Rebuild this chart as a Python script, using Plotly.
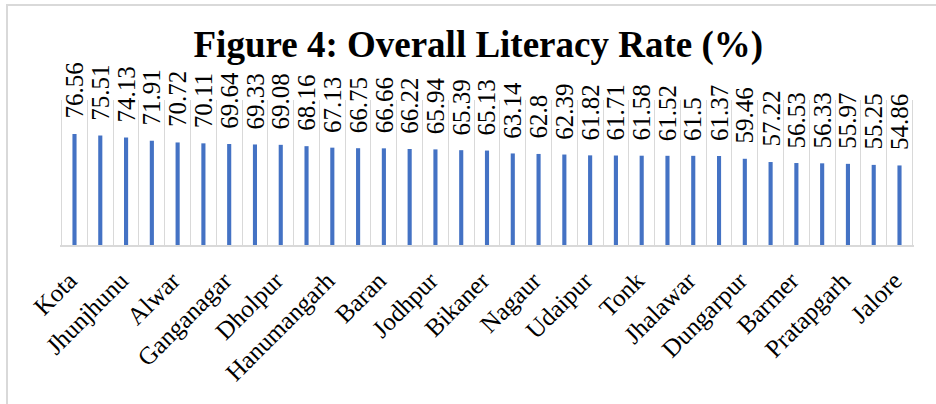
import plotly.graph_objects as go

districts = ["Kota", "Jaipur", "Jhunjhunu", "Sikar", "Alwar", "Bharatpur", "Ganganagar",
             "Ajmer", "Dholpur", "Dausa", "Hanumangarh", "Churu", "Baran", "Karauli",
             "Jodhpur", "Sawai Madhopur", "Bikaner", "Rajsamand", "Nagaur", "Pali",
             "Udaipur", "Chittorgarh", "Tonk", "Bundi", "Jhalawar", "Bhilwara",
             "Dungarpur", "Jaisalmer", "Barmer", "Banswara", "Pratapgarh", "Sirohi", "Jalore"]
literacy = [76.56, 75.51, 74.13, 71.91, 70.72, 70.11, 69.64, 69.33, 69.08, 68.16, 67.13,
            66.75, 66.66, 66.22, 65.94, 65.39, 65.13, 63.14, 62.8, 62.39, 61.82, 61.71,
            61.58, 61.52, 61.5, 61.37, 59.46, 57.22, 56.53, 56.33, 55.97, 55.25, 54.86]
tick_text = [d if i % 2 == 0 else "" for i, d in enumerate(districts)]

SERIF = "Liberation Serif"

fig = go.Figure()
fig.add_trace(go.Bar(x=districts, y=literacy, marker=dict(color="#4472C4", line=dict(width=0)),
                     cliponaxis=False, hoverinfo="x+y"))

for d, v in zip(districts, literacy):
    fig.add_annotation(x=d, y=v, text=f"{v:g}", textangle=-90, showarrow=False,
                       xanchor="center", yanchor="bottom", yshift=14, borderpad=0,
                       font=dict(family=SERIF, size=25, color="#000000"))

fig.update_layout(
    width=936, height=404,
    margin=dict(l=60, r=22, t=100, b=159, autoexpand=False),
    paper_bgcolor="white", plot_bgcolor="white",
    bargap=0.84,
    showlegend=False,
    font=dict(family=SERIF),
    title=dict(text="<b>Figure 4: Overall Literacy Rate (%)</b>", x=0.511, xref="container",
               xanchor="center", y=1 - 44 / 404, yref="container", yanchor="middle",
               font=dict(family=SERIF, size=37, color="#000000")),
    xaxis=dict(type="category", tickmode="array", tickvals=districts, ticktext=tick_text,
               tickangle=-45, tickson="boundaries", ticks="", showgrid=True,
               gridcolor="#d9d9d9", gridwidth=1.3, showline=True, linecolor="#d9d9d9",
               linewidth=2, ticklabelstandoff=9, ticklabelshift=-5, automargin=False,
               tickfont=dict(family=SERIF, size=25, color="#000000")),
    yaxis=dict(range=[0, 100], visible=False, showgrid=False, zeroline=False),
    shapes=[dict(type="rect", xref="paper", yref="paper",
                 x0=(7 - 60) / 854, x1=(945 - 60) / 854,
                 y0=(245 - 420) / 145, y1=(245 - 5) / 145,
                 line=dict(color="#d9d9d9", width=2), fillcolor="rgba(0,0,0,0)",
                 layer="below")],
)

fig.write_html("out.html", config={"displayModeBar": False},
               post_script="document.body.style.margin='0';")
